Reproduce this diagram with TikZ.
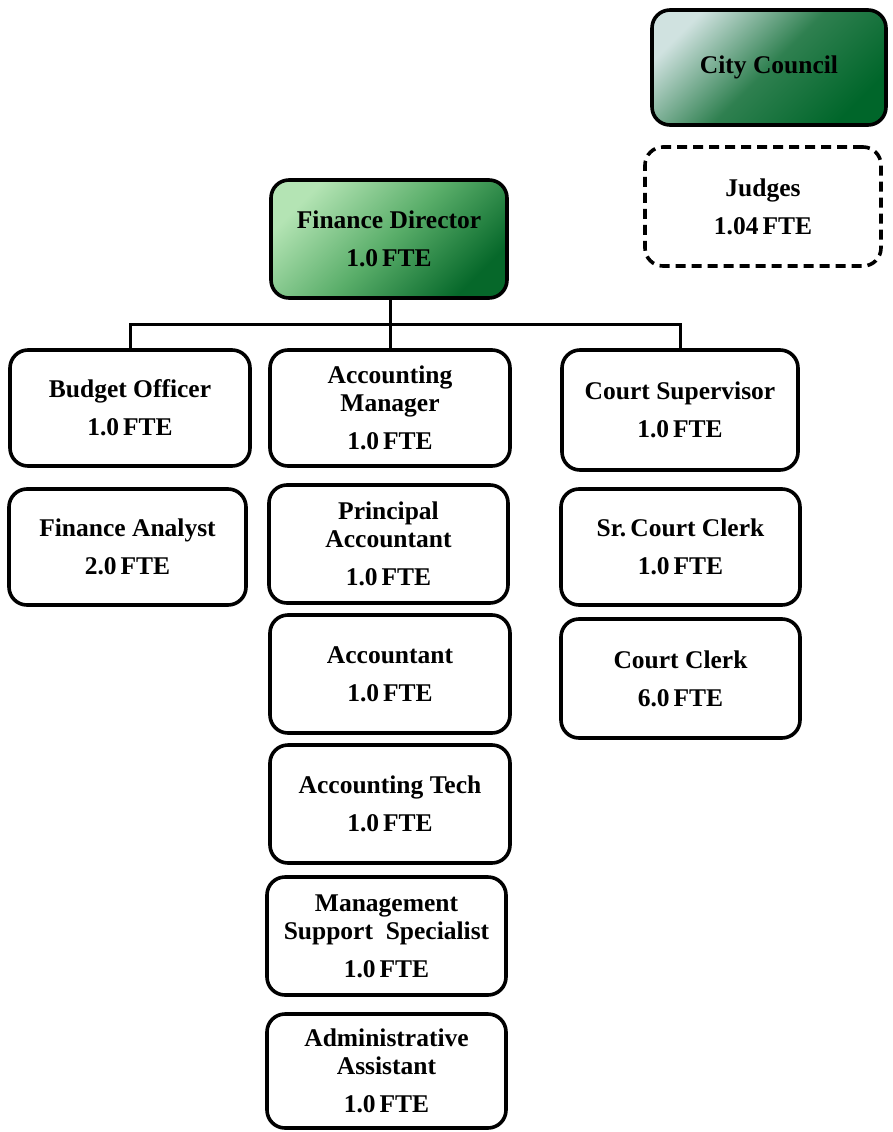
\documentclass[tikz,border=0pt]{standalone}
\usepackage{fontspec}
\setmainfont{Liberation Serif}
\usetikzlibrary{calc}
\definecolor{ccLight}{HTML}{D0E2E0}
\definecolor{ccMid}{HTML}{2F8050}
\definecolor{ccDark}{HTML}{00662A}
\definecolor{fdLight}{HTML}{B4E4B4}
\definecolor{fdMid}{HTML}{5AAE6A}
\definecolor{fdDark}{HTML}{06682A}
\newcommand{\fte}[1]{#1\hspace{4pt}FTE}
\tikzset{
  box/.style={draw=black, line width=3.6pt, rounded corners=18pt, fill=white,
    align=center, inner sep=0pt, minimum width=238pt, minimum height=116pt,
    font=\fontsize{25.5}{28}\selectfont\bfseries, text=black},
  dashbox/.style={box, dash pattern=on 10pt off 6pt},
  ccbox/.style={box, top color=ccLight, bottom color=ccDark, middle color=ccMid, shading angle=45},
  fdbox/.style={box, top color=fdLight, bottom color=fdDark, middle color=fdMid, shading angle=45},
  conn/.style={draw=black, line width=3pt},
}
\begin{document}
\begin{tikzpicture}[x=1pt,y=1pt]
\useasboundingbox (0,0) rectangle (893,-1132);
% top right
\node[ccbox, minimum width=234pt, minimum height=115pt] (cc) at (769,-67.5) {City Council};
\node[dashbox, minimum width=236pt, minimum height=119pt] (jd) at (763,-206.5) {Judges\\[10pt]\fte{1.04}};
% director
\node[fdbox, minimum width=236pt, minimum height=118pt] (fd) at (389,-239) {Finance Director\\[10pt]\fte{1.0}};
% left column
\node[box, minimum width=240pt] (bo) at (130,-408) {Budget Officer\\[10pt]\fte{1.0}};
\node[box, minimum width=237pt] (fa) at (127.5,-547) {Finance Analyst\\[10pt]\fte{2.0}};
% middle column
\node[box, minimum width=240pt] (am) at (390,-408) {Accounting\\Manager\\[10pt]\fte{1.0}};
\node[box, minimum width=239pt, minimum height=118pt] (pa) at (388.5,-544) {Principal\\Accountant\\[10pt]\fte{1.0}};
\node[box, minimum width=240pt, minimum height=118pt] (ac) at (390,-674) {Accountant\\[10pt]\fte{1.0}};
\node[box, minimum width=240pt, minimum height=118pt] (at) at (390,-804) {Accounting Tech\\[10pt]\fte{1.0}};
\node[box, minimum width=239pt, minimum height=118pt] (ms) at (386.5,-936) {Management\\Support\enspace Specialist\\[10pt]\fte{1.0}};
\node[box, minimum width=239pt, minimum height=114pt] (aa) at (386.5,-1071) {Administrative\\Assistant\\[10pt]\fte{1.0}};
% right column
\node[box, minimum width=236pt, minimum height=120pt] (cs) at (680,-410) {Court Supervisor\\[10pt]\fte{1.0}};
\node[box, minimum width=239pt] (sc) at (680.5,-547) {Sr.\,Court Clerk\\[10pt]\fte{1.0}};
\node[box, minimum width=239pt, minimum height=119pt] (ck) at (680.5,-678.5) {Court Clerk\\[10pt]\fte{6.0}};
% connectors
\coordinate (busL) at (130,-324);
\coordinate (busR) at (680,-324);
\draw[conn] (fd.south -| am.north) -- (am.north);
\draw[conn] (bo.north) -- (busL) -- (busR) -- (cs.north);
\end{tikzpicture}
\end{document}
